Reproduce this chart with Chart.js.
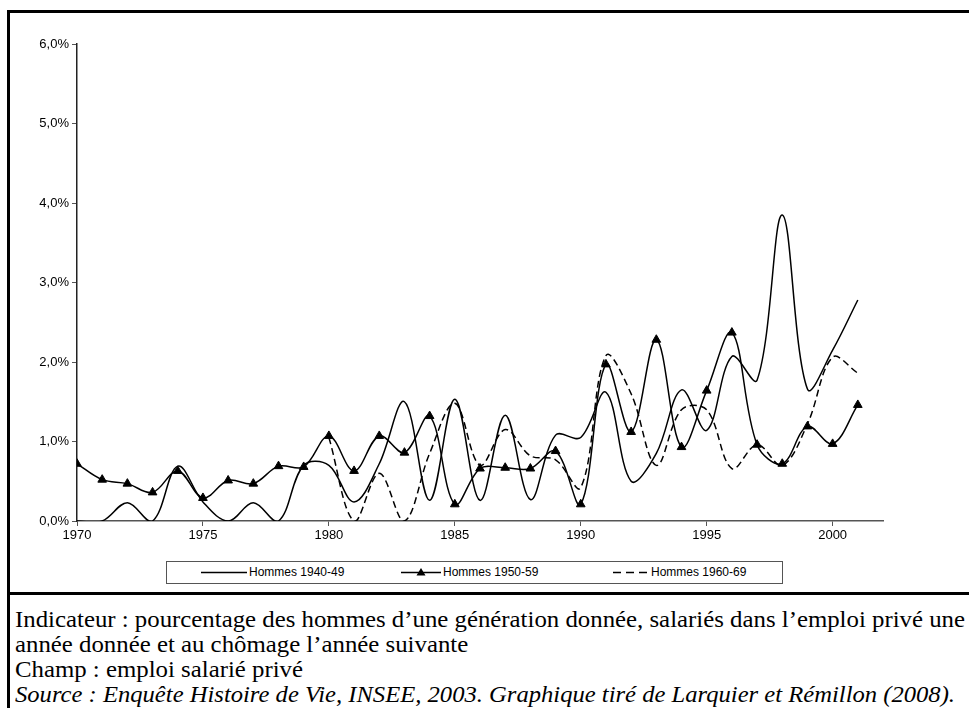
<!DOCTYPE html>
<html><head><meta charset="utf-8">
<script src="https://cdn.jsdelivr.net/npm/chart.js@4.4.1/dist/chart.umd.min.js"></script>
<style>
html,body{margin:0;padding:0;background:#fff;width:969px;height:708px;overflow:hidden;}
#wrap{position:relative;width:969px;height:708px;overflow:hidden;}
.frame{position:absolute;background:#000;}
#chartBox{position:absolute;left:0;top:0;width:969px;height:556px;}
#legend{position:absolute;left:166px;top:561px;width:615px;height:21px;border:1px solid #555;font-family:"Liberation Sans",Arial,sans-serif;font-size:12px;color:#000;}
.item{position:absolute;top:0;height:21px;line-height:21px;white-space:nowrap;display:flex;align-items:center;}
.item svg{display:block;}
.note{position:absolute;left:15px;font-family:"Liberation Serif","Times New Roman",serif;font-size:23px;line-height:25px;white-space:nowrap;transform-origin:0 0;color:#000;}
</style></head>
<body>
<div id="wrap">
  <div class="frame" style="left:7px;top:10px;width:962px;height:3px;"></div>
  <div class="frame" style="left:7px;top:10px;width:3px;height:698px;"></div>
  <div class="frame" style="left:7px;top:592px;width:962px;height:3px;"></div>
  <div id="chartBox"><canvas id="c" width="969" height="556"></canvas></div>
  <div id="legend"></div>
  <div class="note" id="n1" style="top:607px;">Indicateur : pourcentage des hommes d’une génération donnée, salariés dans l’emploi privé une</div>
  <div class="note" id="n2" style="top:632px;">année donnée et au chômage l’année suivante</div>
  <div class="note" id="n3" style="top:657px;">Champ : emploi salarié privé</div>
  <div class="note" id="n4" style="top:682px;font-style:italic;">Source : Enquête Histoire de Vie, INSEE, 2003. Graphique tiré de Larquier et Rémillon (2008).</div>
</div>
<script>
const years = [1970,1971,1972,1973,1974,1975,1976,1977,1978,1979,1980,1981,1982,1983,1984,1985,1986,1987,1988,1989,1990,1991,1992,1993,1994,1995,1996,1997,1998,1999,2000,2001];
const seriesNames = ["Hommes 1940-49","Hommes 1950-59","Hommes 1960-69"];
const h1940 = [0.00,0.00,0.23,0.00,0.69,0.24,0.00,0.23,0.00,0.70,0.70,0.24,0.72,1.50,0.26,1.53,0.26,1.33,0.27,1.08,1.05,1.62,0.50,0.85,1.65,1.14,2.07,1.77,3.85,1.66,2.15,2.78];
const h1950 = [0.72,0.52,0.47,0.36,0.63,0.29,0.51,0.47,0.69,0.68,1.07,0.63,1.07,0.86,1.32,0.21,0.66,0.67,0.66,0.88,0.21,1.97,1.12,2.28,0.93,1.64,2.37,0.96,0.72,1.19,0.97,1.46];
const h1960 = [null,null,null,null,null,null,null,null,null,null,1.05,0.00,0.60,0.00,0.85,1.48,0.70,1.15,0.82,0.77,0.42,2.08,1.60,0.70,1.40,1.40,0.66,0.96,0.70,1.22,2.06,1.86];
const xTickLabels = ["1970","1975","1980","1985","1990","1995","2000"];
const yTickLabels = ["0,0%","1,0%","2,0%","3,0%","4,0%","5,0%","6,0%"];

const toXY = arr => years.map((y,i)=>({x:y,y:arr[i]}));
const axisColor = '#555';
const tickFont = {family:'"Liberation Sans", Arial, sans-serif', size:13};

new Chart(document.getElementById('c'), {
  type:'line',
  data:{datasets:[
    {label:seriesNames[0],data:toXY(h1940),borderColor:'#000',borderWidth:1.5,pointRadius:0,tension:0.36,fill:false},
    {label:seriesNames[1],data:toXY(h1950),borderColor:'#000',borderWidth:1.5,pointStyle:'triangle',pointRadius:5,pointBackgroundColor:'#000',pointBorderColor:'#000',pointBorderWidth:1,tension:0.36,fill:false},
    {label:seriesNames[2],data:toXY(h1960),borderColor:'#000',borderWidth:1.5,borderDash:[7,4],pointRadius:0,tension:0.36,fill:false,spanGaps:false}
  ]},
  options:{
    responsive:false,animation:false,devicePixelRatio:1,
    layout:{padding:{left:0,right:86,top:44,bottom:0}},
    plugins:{legend:{display:false},tooltip:{enabled:false}},
    elements:{line:{capBezierPoints:false}},
    scales:{
      x:{type:'linear',min:1970,max:2002,
        afterFit:s=>{s.height=35;},
        ticks:{stepSize:5,includeBounds:false,autoSkip:false,maxRotation:0,color:'#000',font:tickFont,padding:2,
          callback:v=>{const s=String(v);return xTickLabels.includes(s)?s:'';}},
        grid:{display:true,drawOnChartArea:false,drawTicks:true,tickLength:5,color:axisColor,lineWidth:1},
        border:{display:true,color:axisColor,width:1.5}},
      y:{type:'linear',min:0,max:6,
        afterFit:s=>{s.width=77;},
        ticks:{stepSize:1,color:'#000',font:tickFont,padding:3,callback:v=>yTickLabels[Math.round(v)]},
        grid:{display:true,drawOnChartArea:false,drawTicks:true,tickLength:5,color:axisColor,lineWidth:1},
        border:{display:true,color:'#222',width:1.5}}
    }
  }
});

const legend = document.getElementById('legend');
const samples = [
  '<svg width="46" height="21"><line x1="0" y1="10.5" x2="46" y2="10.5" stroke="#000" stroke-width="1.5"/></svg>',
  '<svg width="40" height="21"><line x1="0" y1="10.5" x2="40" y2="10.5" stroke="#000" stroke-width="1.5"/><polygon points="20,6 24.5,13.5 15.5,13.5" fill="#000"/></svg>',
  '<svg width="36" height="21"><line x1="0" y1="10.5" x2="36" y2="10.5" stroke="#000" stroke-width="1.5" stroke-dasharray="8,5"/></svg>'
];
const lefts = [34, 234, 446];
seriesNames.forEach((n,i)=>{
  const d=document.createElement('div');d.className='item';d.style.left=lefts[i]+'px';
  d.innerHTML=samples[i]+'<span style="margin-left:2px">'+n+'</span>';legend.appendChild(d);
});
function fit(id,w){const el=document.getElementById(id);const r=el.getBoundingClientRect().width;return w/r;}
const s1 = fit('n1',950);
['n1','n2','n3'].forEach(id=>document.getElementById(id).style.transform='scaleX('+s1+')');
const s4 = fit('n4',940);
document.getElementById('n4').style.transform='scaleX('+s4+')';
</script>
</body></html>
